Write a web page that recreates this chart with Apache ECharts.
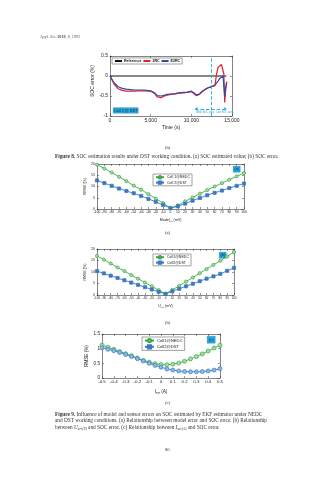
<!DOCTYPE html>
<html>
<head>
<meta charset="utf-8">
<script src="https://cdn.jsdelivr.net/npm/echarts@6/dist/echarts.min.js"></script>
<style>
  html, body { margin: 0; padding: 0; background: #fff; }
  #page { width: 334px; height: 479px; }
</style>
</head>
<body>
<div id="page"></div>
<script>
// ---- Figure 8(b): SOC error under DST ----
const timeS = [0, 200, 500, 1000, 1500, 2000, 2500, 3000, 3500, 4000, 4500, 5000, 5500, 5800, 6000, 6300, 6700, 7000, 7500, 8000, 8500, 9000, 9500, 10000, 10300, 10600, 10800, 11000, 11300, 11700, 12000, 12500, 12900, 13100, 13300, 13500, 13700, 13900, 14000, 14100, 14200, 14350];
const err2RC = [0, -0.08, -0.2, -0.32, -0.36, -0.38, -0.38, -0.38, -0.37, -0.37, -0.37, -0.38, -0.44, -0.52, -0.56, -0.54, -0.5, -0.48, -0.46, -0.45, -0.43, -0.42, -0.41, -0.39, -0.44, -0.49, -0.5, -0.46, -0.4, -0.34, -0.3, -0.27, -0.24, 0.05, 0.22, 0.27, 0.29, 0.27, 0.05, -0.66, -0.4, -0.14];
const errE2RC = [0, -0.07, -0.17, -0.27, -0.31, -0.33, -0.34, -0.35, -0.35, -0.35, -0.36, -0.37, -0.42, -0.49, -0.52, -0.5, -0.48, -0.46, -0.45, -0.44, -0.42, -0.41, -0.4, -0.38, -0.42, -0.47, -0.48, -0.45, -0.39, -0.33, -0.3, -0.26, -0.23, -0.18, -0.12, -0.06, -0.01, 0.0, -0.05, -0.53, -0.3, -0.15];
const refEnd = 14300;
const cutTime = 12450;
const rangeArrow = [10450, 14350, -0.82];

// ---- Figure 9 data ----
const errMV = [-100, -90, -80, -70, -60, -50, -40, -30, -20, -10, 0, 10, 20, 30, 40, 50, 60, 70, 80, 90, 100];
const modelNEDC = [19.7, 18.0, 16.2, 14.3, 12.4, 10.4, 8.6, 6.6, 4.6, 2.6, 0.4, 1.6, 3.4, 5.1, 6.8, 8.4, 10.0, 11.5, 13.0, 14.5, 16.0];
const modelDST  = [12.7, 11.5, 10.3, 9.1, 8.0, 7.0, 5.8, 4.5, 3.2, 1.8, 0.4, 1.2, 2.4, 3.7, 4.9, 6.1, 7.2, 8.2, 9.3, 10.3, 11.3];
const voltNEDC  = [17.0, 15.4, 13.7, 12.0, 10.4, 8.7, 7.1, 5.4, 3.8, 2.1, 0.5, 2.2, 4.0, 5.8, 7.6, 9.5, 11.3, 13.1, 14.9, 16.8, 18.7];
const voltDST   = [10.4, 9.4, 8.4, 7.4, 6.4, 5.4, 4.4, 3.4, 2.4, 1.4, 0.5, 1.6, 2.7, 3.8, 4.9, 6.0, 7.1, 8.1, 9.2, 10.5, 11.8];
const errA = [-0.5, -0.45, -0.4, -0.35, -0.3, -0.25, -0.2, -0.15, -0.1, -0.05, 0, 0.05, 0.1, 0.15, 0.2, 0.25, 0.3, 0.35, 0.4, 0.45, 0.5];
const currNEDC = [1.12, 1.05, 0.98, 0.9, 0.83, 0.76, 0.68, 0.6, 0.54, 0.49, 0.46, 0.45, 0.47, 0.51, 0.57, 0.65, 0.73, 0.82, 0.92, 1.02, 1.12];
const currDST  = [1.03, 0.98, 0.93, 0.87, 0.8, 0.73, 0.66, 0.58, 0.5, 0.43, 0.37, 0.31, 0.27, 0.24, 0.22, 0.21, 0.21, 0.22, 0.24, 0.27, 0.32];

const GREEN = '#3aa84a';
const BLUE = '#3b78c2';
const CYAN = '#27a9e1';
const SANS = 'Liberation Sans, Arial, sans-serif';
const SERIF = 'Liberation Serif, Times New Roman, serif';

const zip = (xs, ys) => xs.map((x, i) => [x, ys[i]]);

const grids = [
  { left: 110, top: 56, width: 122, height: 60 },
  { left: 97, top: 164, width: 147, height: 45 },
  { left: 97, top: 249, width: 137, height: 46 },
  { left: 102, top: 334, width: 118, height: 44 }
];

const xAxes = [];
const yAxes = [];
// Each plot is boxed: labelled bottom/left axes plus bare mirrored top/right axes.
function boxAxes(gi, xo, yo) {
  const common = {
    gridIndex: gi, type: 'value',
    axisLine: { show: true, onZero: false, lineStyle: { color: '#333', width: 0.6 } },
    axisTick: { show: true, inside: true, length: 2, lineStyle: { color: '#333', width: 0.5 } },
    splitLine: { show: false }
  };
  const xi = xAxes.length;
  xAxes.push(Object.assign({}, common, xo, { position: 'bottom' }));
  xAxes.push(Object.assign({}, common, { min: xo.min, max: xo.max, interval: xo.interval, position: 'top', axisLabel: { show: false } }));
  const yi = yAxes.length;
  yAxes.push(Object.assign({}, common, yo, { position: 'left' }));
  yAxes.push(Object.assign({}, common, { min: yo.min, max: yo.max, interval: yo.interval, position: 'right', axisLabel: { show: false } }));
  return { xi, yi };
}

const tickLbl = (size, fmt) => ({ show: true, fontSize: size, color: '#222', fontFamily: SANS, margin: 2, formatter: fmt });
const subName = (size) => ({ fontSize: size, color: '#222', fontFamily: SANS,
  rich: { m: { fontSize: size, fontFamily: SANS, color: '#222' }, s: { fontSize: size * 0.7, fontFamily: SANS, color: '#222', padding: [size * 0.8, 0, 0, 0] } } });

const a0 = boxAxes(0,
  { min: 0, max: 15000, interval: 5000, axisLabel: tickLbl(5, v => v.toLocaleString('en-US')),
    name: 'Time (s)', nameLocation: 'middle', nameGap: 9, nameTextStyle: { fontSize: 5, fontFamily: SANS, color: '#222' } },
  { min: -1, max: 0.5, interval: 0.5, axisLabel: tickLbl(5, v => String(v)),
    name: 'SOC error (%)', nameLocation: 'middle', nameGap: 11, nameTextStyle: { fontSize: 5, fontFamily: SANS, color: '#222', padding: [0, 0, 0, 10] } });

const a1 = boxAxes(1,
  { min: -100, max: 100, interval: 10, axisLabel: tickLbl(3.3, v => String(v)),
    name: '{m|Model}{s|err}{m| (mV)}', nameLocation: 'middle', nameGap: 8, nameTextStyle: subName(3.6) },
  { min: 0, max: 20, interval: 5, axisLabel: tickLbl(3.5, v => String(v)),
    name: 'RMSE (%)', nameLocation: 'middle', nameGap: 7, nameTextStyle: { fontSize: 3.6, fontFamily: SANS, color: '#222' } });

const a2 = boxAxes(2,
  { min: -100, max: 100, interval: 10, axisLabel: tickLbl(3.1, v => String(v)),
    name: '{m|U}{s|err}{m| (mV)}', nameLocation: 'middle', nameGap: 8, nameTextStyle: subName(3.6) },
  { min: 0, max: 20, interval: 5, axisLabel: tickLbl(3.5, v => String(v)),
    name: 'RMSE (%)', nameLocation: 'middle', nameGap: 7, nameTextStyle: { fontSize: 3.6, fontFamily: SANS, color: '#222' } });

const a3 = boxAxes(3,
  { min: -0.5, max: 0.5, interval: 0.1, axisLabel: tickLbl(4.4, v => (Math.abs(v) < 1e-9 ? '0' : String(+v.toFixed(1)))),
    name: '{m|I}{s|err}{m| (A)}', nameLocation: 'middle', nameGap: 10, nameTextStyle: subName(4.6) },
  { min: 0, max: 1.5, interval: 0.5, axisLabel: tickLbl(4.6, v => String(v)),
    name: 'RMSE (%)', nameLocation: 'middle', nameGap: 9, nameTextStyle: { fontSize: 4.6, fontFamily: SANS, color: '#222' } });

function lineSeries(name, ax, data, color, extra) {
  return Object.assign({
    name, type: 'line', xAxisIndex: ax.xi, yAxisIndex: ax.yi, data,
    showSymbol: false, symbol: 'none', lineStyle: { color, width: 1.2 }, itemStyle: { color },
    z: 3
  }, extra || {});
}
function markerSeries(name, ax, data, color, shape, fill, size) {
  return {
    name, type: 'line', xAxisIndex: ax.xi, yAxisIndex: ax.yi, data,
    symbol: shape, symbolSize: size || 3.2, showSymbol: true,
    lineStyle: { color, width: 0.9 },
    itemStyle: { color: fill, borderColor: color, borderWidth: 0.7 }
  };
}

const series = [
  lineSeries('Reference', a0, [[0, 0], [refEnd, 0]], '#111', { lineStyle: { color: '#111', width: 1.2 } }),
  lineSeries('2RC', a0, zip(timeS, err2RC), '#e0222a', {
    markLine: {
      silent: true, symbol: 'none', label: { show: false },
      lineStyle: { color: CYAN, type: 'dashed', width: 0.9 },
      data: [{ xAxis: cutTime }]
    }
  }),
  lineSeries('E2RC', a0, zip(timeS, errE2RC), '#3a46a6', {
    markLine: {
      silent: true, symbol: ['arrow', 'arrow'], symbolSize: 3, label: { show: false },
      lineStyle: { color: CYAN, type: 'dashed', width: 0.9 },
      data: [[{ coord: [rangeArrow[0], rangeArrow[2]] }, { coord: [rangeArrow[1], rangeArrow[2]] }]]
    }
  }),
  markerSeries('Cell 1@NEDC', a1, zip(errMV, modelNEDC), GREEN, 'circle', '#a9dba0'),
  markerSeries('Cell 2@DST', a1, zip(errMV, modelDST), BLUE, 'rect', BLUE),
  markerSeries('Cell1@NEDC', a2, zip(errMV, voltNEDC), GREEN, 'circle', '#a9dba0'),
  markerSeries('Cell2@DST', a2, zip(errMV, voltDST), BLUE, 'rect', BLUE),
  markerSeries('Cell1@NEDC', a3, zip(errA, currNEDC), GREEN, 'circle', '#a9dba0', 4),
  markerSeries('Cell2@DST', a3, zip(errA, currDST), BLUE, 'circle', '#8fb8e6', 4)
];

const legendBase = {
  orient: 'vertical', backgroundColor: '#fff', borderColor: '#444', borderWidth: 0.5,
  padding: [1, 2], itemGap: 1, itemWidth: 8, itemHeight: 3,
  textStyle: { fontSize: 3.6, fontFamily: SANS, color: '#222', padding: [0, 0, 0, -2] }
};

const legends = [
  Object.assign({}, legendBase, {
    left: 112, top: 58, orient: 'horizontal', itemGap: 1, itemWidth: 7, itemHeight: 2,
    data: ['Reference', '2RC', 'E2RC'], textStyle: { fontSize: 3.6, fontWeight: 'bold', fontFamily: SANS, color: '#111', padding: [0, 0, 0, -3] }
  }),
  Object.assign({}, legendBase, { left: 153, top: 174, data: ['Cell 1@NEDC', 'Cell 2@DST'] }),
  Object.assign({}, legendBase, { left: 153, top: 254, data: ['Cell1@NEDC', 'Cell2@DST'] }),
  Object.assign({}, legendBase, { left: 142, top: 337, data: ['Cell1@NEDC', 'Cell2@DST'], itemHeight: 4, itemWidth: 9, textStyle: { fontSize: 4.2, fontFamily: SANS, color: '#222', padding: [0, 0, 0, -2] } })
];

// Tag boxes and page text
function tag(x, y, w, h, text, size) {
  return {
    type: 'group', left: x, top: y, z: 10,
    children: [
      { type: 'rect', shape: { x: 0, y: 0, width: w, height: h }, style: { fill: CYAN, stroke: '#1b7fae', lineWidth: 0.4 } },
      { type: 'text', x: w / 2, y: h / 2, style: { text, fontSize: size, fontFamily: SANS, fill: '#0d2233', align: 'center', verticalAlign: 'middle' } }
    ]
  };
}
function txt(x, y, text, size, extra) {
  return { type: 'text', left: x, top: y, z: 10,
    style: Object.assign({ text, fontSize: size, fontFamily: SERIF, fill: '#333' }, extra || {}) };
}
const CAP = 5.3;
const capRich = {
  n: { fontSize: CAP, fontFamily: SERIF, fill: '#333' },
  b: { fontSize: CAP, fontFamily: SERIF, fill: '#333', fontWeight: 'bold' },
  i: { fontSize: CAP, fontFamily: SERIF, fill: '#333', fontStyle: 'italic' },
  s: { fontSize: 3.6, fontFamily: SERIF, fill: '#333', fontStyle: 'italic', padding: [3, 0, 0, 0] }
};

const graphic = [
  txt(40, 34.5, '{i|Appl. Sci.} {b|2018}{i|, 8,} {n|1992}', 4.2, { rich: {
    i: { fontSize: 4.2, fontFamily: SERIF, fill: '#555', fontStyle: 'italic' },
    b: { fontSize: 4.2, fontFamily: SERIF, fill: '#555', fontWeight: 'bold' },
    n: { fontSize: 4.2, fontFamily: SERIF, fill: '#555' } } }),
  tag(113, 107.5, 25, 5.5, 'Cell 2 @ DST', 3.8),
  txt(196, 110.5, 'Wide SOC area   Low SOC area', 2.6, { fill: CYAN, fontFamily: SANS }),
  txt(165, 145, '(b)', 4.6),
  txt(55, 154, '{b|Figure 8.} {n|SOC estimation results under DST working condition. (a) SOC estimated value; (b) SOC error.}', CAP, { rich: capRich }),
  tag(233, 166, 7, 6, '(a)', 3.5),
  txt(165, 230, '(a)', 4.6),
  tag(219, 252, 7, 6, '(b)', 3.5),
  txt(165, 320, '(b)', 4.6),
  tag(207, 336, 8, 7, '(c)', 4),
  txt(165, 400, '(c)', 4.6),
  txt(55, 412, '{b|Figure 9.} {n|Influence of model and sensor errors on SOC estimated by EKF estimator under NEDC}', CAP, { rich: capRich }),
  txt(55, 418.5, '{n|and DST working conditions. (a) Relationship between model error and SOC error. (b) Relationship}', CAP, { rich: capRich }),
  txt(55, 425, '{n|between }{i|U}{s|err(V)}{n| and SOC error. (c) Relationship between }{i|I}{s|err(A)}{n| and SOC error.}', CAP, { rich: capRich }),
  txt(165, 447, '86', 4.6)
];

const chart = echarts.init(document.getElementById('page'), null, { renderer: 'canvas' });
chart.setOption({
  backgroundColor: '#fff',
  animation: false,
  grid: grids,
  xAxis: xAxes,
  yAxis: yAxes,
  legend: legends,
  series,
  graphic
});
</script>
</body>
</html>
